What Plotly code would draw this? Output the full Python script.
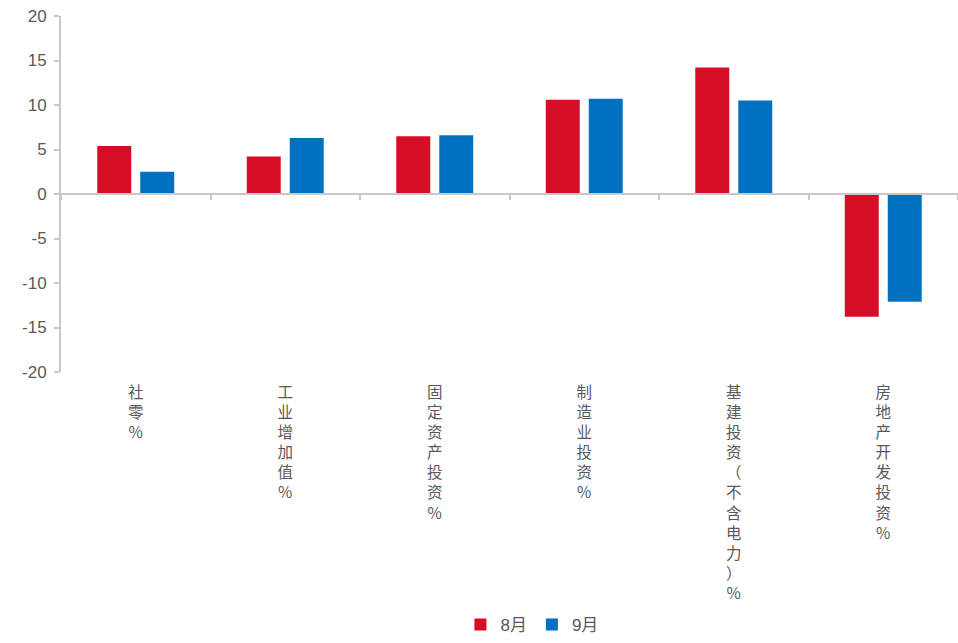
import plotly.graph_objects as go

categories = ["社零%", "工业增加值%", "固定资产投资%", "制造业投资%", "基建投资（不含电力）%", "房地产开发投资%"]
aug = [5.4, 4.2, 6.5, 10.6, 14.2, -13.8]
sep = [2.5, 6.3, 6.6, 10.7, 10.5, -12.1]
series_names = ["8月", "9月"]
colors = ["#D50E26", "#0070C0"]
y_ticks = [20, 15, 10, 5, 0, -5, -10, -15, -20]
y_tick_text = ["20", "15", "10", "5", "0", "-5", "-10", "-15", "-20"]

labels = ["<br>".join(list(c)) for c in categories]

fig = go.Figure()
for name, vals, col in zip(series_names, [aug, sep], colors):
    fig.add_trace(go.Bar(x=labels, y=vals, name=name, marker=dict(color=col, line=dict(width=0))))

# helper trace for the zero-positioned category axis with boundary ticks
n = len(categories)
bounds = [i - 0.5 for i in range(n + 1)]
fig.add_trace(go.Scatter(x=bounds, y=[0] * len(bounds), xaxis="x2", mode="lines",
                         line=dict(width=0), hoverinfo="skip", showlegend=False))

fig.update_layout(
    width=958, height=643,
    margin=dict(l=61, r=0, t=16, b=267),
    paper_bgcolor="white", plot_bgcolor="white",
    barmode="group", bargap=0.425, bargroupgap=0.21,
    font=dict(family="Liberation Sans, Noto Sans CJK SC, sans-serif", color="#595959"),
    xaxis=dict(showline=False, showgrid=False, zeroline=False, ticks="outside", ticklen=6,
               tickcolor="rgba(0,0,0,0)", tickfont=dict(size=15.5, color="#595959",
               family="Noto Sans CJK SC, sans-serif"), tickangle=0),
    xaxis2=dict(overlaying="x", anchor="free", position=0.5, range=[-0.5, n - 0.5],
                tickvals=bounds, ticks="outside", ticklen=5, tickwidth=2, tickcolor="#C8C8C8",
                showline=True, linecolor="#C8C8C8", linewidth=2, showticklabels=False,
                showgrid=False, zeroline=False, fixedrange=True),
    yaxis=dict(range=[-20, 20], tickvals=y_ticks, ticktext=y_tick_text, ticks="outside",
               ticklen=5, tickwidth=1.5,
               tickcolor="#C8C8C8", showline=True, linecolor="#C8C8C8", linewidth=2,
               showgrid=False, zeroline=False, tickfont=dict(size=17, color="#595959"),
               ticklabelstandoff=4),
    legend=dict(orientation="h", x=0.525, xanchor="center", y=-0.711, yanchor="middle",
                font=dict(size=17, color="#595959"), itemwidth=30, traceorder="normal"),
)

fig.write_html("out.html")
